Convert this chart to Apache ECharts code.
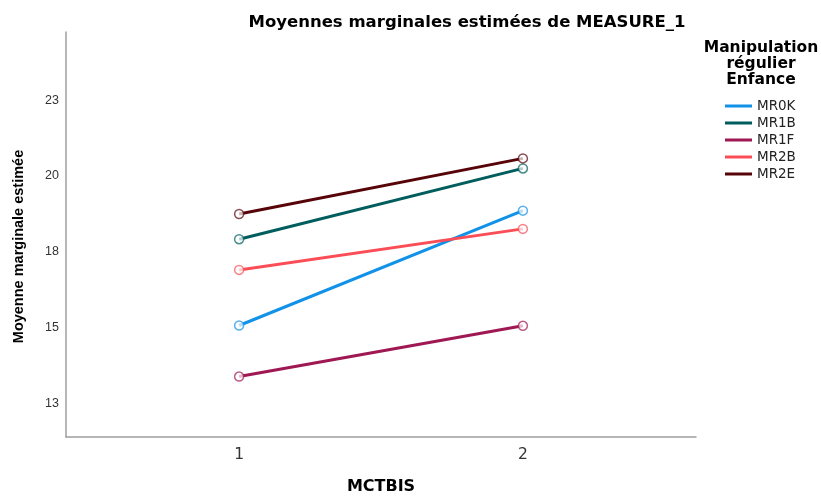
<!DOCTYPE html>
<html>
<head>
<meta charset="utf-8">
<script src="https://cdn.jsdelivr.net/npm/echarts@6/dist/echarts.min.js"></script>
<style>html,body{margin:0;padding:0;background:#fff}#c{width:821px;height:497px}</style>
</head>
<body>
<div id="c"></div>
<script>
var xValues = [1, 2];
var xTickLabels = ['1', '2'];
var yTickValues = [12.5, 15, 17.5, 20, 22.5];
var yTickLabels = ['13', '15', '18', '20', '23'];
var seriesNames = ['MR0K', 'MR1B', 'MR1F', 'MR2B', 'MR2E'];
var MR0K = [15.08, 18.86];
var MR1B = [17.92, 20.25];
var MR1F = [13.40, 15.07];
var MR2B = [16.91, 18.26];
var MR2E = [18.75, 20.58];
var seriesValues = [MR0K, MR1B, MR1F, MR2B, MR2E];
var colors = ['#1192e8', '#005d5d', '#9f1853', '#fa4d56', '#570408'];

var wide = '"DejaVu Sans", Arial, sans-serif';
var arial = '"Liberation Sans", Arial, sans-serif';
var chart = echarts.init(document.getElementById('c'), null, {renderer: 'canvas'});
var series = seriesNames.map(function (n, i) {
  return {
    name: n,
    type: 'line',
    data: xValues.map(function (x, j) { return [x, seriesValues[i][j]]; }),
    symbol: 'circle',
    symbolSize: 9,
    showSymbol: true,
    lineStyle: {width: 3, color: colors[i]},
    itemStyle: {color: '#fff', borderColor: colors[i], borderWidth: 1.5, opacity: 0.7},
    emphasis: {disabled: true},
    z: 2
  };
});
chart.setOption({
  animation: false,
  color: colors,
  title: {
    text: 'Moyennes marginales estimées de MEASURE_1',
    left: 462, textAlign: 'center', top: 9,
    textStyle: {fontFamily: wide, fontSize: 16.5, fontWeight: 'bold', color: '#000'}
  },
  graphic: [{
    type: 'text', x: 761, y: 40,
    style: {
      text: 'Manipulation\nrégulier\nEnfance',
      align: 'center', verticalAlign: 'top',
      font: 'bold 15.5px ' + wide, lineHeight: 16, fill: '#000'
    }
  }],
  legend: {
    orient: 'vertical', left: 725, top: 99, padding: 0,
    icon: 'rect', itemWidth: 27, itemHeight: 3, itemGap: 3,
    data: seriesNames.map(function (n, i) {
      return {name: n, itemStyle: {color: colors[i], borderWidth: 0, opacity: 1}};
    }),
    textStyle: {fontFamily: wide, fontSize: 13.5, lineHeight: 14, color: '#222'},
    selectedMode: false
  },
  grid: {left: 66, right: 125, top: 32, bottom: 60, outerBoundsMode: 'none', containLabel: false},
  xAxis: {
    type: 'value', min: 0.39, max: 2.61,
    name: 'MCTBIS', nameLocation: 'middle', nameGap: 42,
    nameTextStyle: {fontFamily: wide, fontSize: 16, fontWeight: 'bold', color: '#000'},
    axisLine: {show: true, lineStyle: {color: '#9e9e9e', width: 1.5}},
    axisTick: {show: false},
    splitLine: {show: false},
    axisLabel: {
      customValues: xValues, margin: 10,
      formatter: function (v) { return xTickLabels[xValues.indexOf(v)]; },
      fontFamily: wide, fontSize: 15.5, color: '#333'
    }
  },
  yAxis: {
    type: 'value', min: 11.41, max: 24.74,
    name: 'Moyenne marginale estimée', nameLocation: 'middle', nameGap: 40,
    nameTextStyle: {fontFamily: arial, fontSize: 14.5, fontWeight: 'bold', color: '#000', padding: [0, 0, 0, -24]},
    axisLine: {show: true, lineStyle: {color: '#9e9e9e', width: 1.5}},
    axisTick: {show: false},
    splitLine: {show: false},
    axisLabel: {
      customValues: yTickValues, margin: 7,
      formatter: function (v) { return yTickLabels[yTickValues.indexOf(v)]; },
      fontFamily: arial, fontSize: 12.5, color: '#333'
    }
  },
  series: series
});
</script>
</body>
</html>
